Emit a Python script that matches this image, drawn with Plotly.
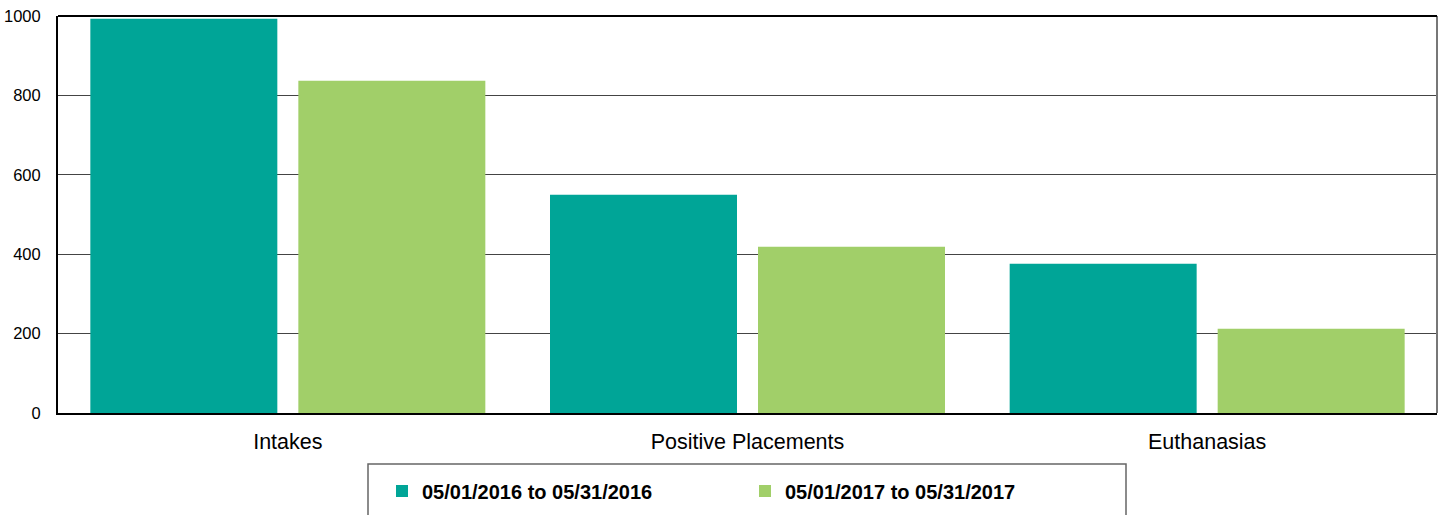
import plotly.graph_objects as go

categories = ["Intakes", "Positive Placements", "Euthanasias"]
series_2016 = [993, 550, 376]
series_2017 = [837, 419, 212]
series_names = ["05/01/2016 to 05/31/2016", "05/01/2017 to 05/31/2017"]
y_ticks = [0, 200, 400, 600, 800, 1000]

TEAL = "#00A597"
GREEN = "#A1CF69"

fig = go.Figure()
fig.add_trace(go.Bar(x=categories, y=series_2016, name=series_names[0],
                     marker=dict(color=TEAL, line=dict(width=0))))
fig.add_trace(go.Bar(x=categories, y=series_2017, name=series_names[1],
                     marker=dict(color=GREEN, line=dict(width=0))))

W, H = 1443, 515
L, R, T, B = 58, 6, 16, 102
pw = W - L - R
ph = H - T - B

def px_to_paper_x(px):
    return (px - L) / pw

def px_to_paper_y(py):
    return (H - B - py) / ph

fig.update_layout(
    width=W, height=H,
    margin=dict(l=L, r=R, t=T, b=B, pad=0, autoexpand=False),
    paper_bgcolor="white", plot_bgcolor="white",
    font=dict(family="Arial, Liberation Sans, sans-serif", color="#000000"),
    barmode="group", bargap=0.095, bargroupgap=0.101,
    showlegend=True,
    legend=dict(
        orientation="h",
        xref="container", yref="container",
        x=382 / W, xanchor="left",
        y=1 - 491 / H, yanchor="middle",
        font=dict(size=20, family="Arial, Liberation Sans, sans-serif", color="#000000", weight="bold"),
        bgcolor="rgba(0,0,0,0)", borderwidth=0,
        entrywidth=318, entrywidthmode="pixels",
        itemclick=False, itemdoubleclick=False,
    ),
    xaxis=dict(
        showgrid=False, showline=True, linecolor="#000000", linewidth=2,
        mirror=False, ticks="", tickfont=dict(size=21.5),
        ticklabelstandoff=8, automargin=False,
    ),
    yaxis=dict(
        range=[0, 1000], tickvals=y_ticks, showgrid=True,
        gridcolor="#444444", gridwidth=1,
        showline=True, linecolor="#000000", linewidth=2, mirror=False,
        ticks="", tickfont=dict(size=16.5), ticklabelstandoff=12,
        zeroline=False, automargin=False,
    ),
    shapes=[
        # plot frame right and top
        dict(type="line", xref="paper", yref="paper", x0=1, x1=1, y0=0, y1=1,
             line=dict(color="#777777", width=2)),
        dict(type="line", xref="paper", yref="paper", x0=0, x1=1, y0=1, y1=1,
             line=dict(color="#000000", width=2)),
        # legend box
        dict(type="rect", xref="paper", yref="paper",
             x0=px_to_paper_x(368), x1=px_to_paper_x(1126),
             y0=px_to_paper_y(530), y1=px_to_paper_y(464),
             line=dict(color="#666666", width=1.5), fillcolor="rgba(0,0,0,0)"),
    ],
)

fig.write_html(
    "out.html",
    config={"displayModeBar": False},
    post_script="document.body.style.margin='0';document.body.style.padding='0';document.body.style.overflow='hidden';",
)
